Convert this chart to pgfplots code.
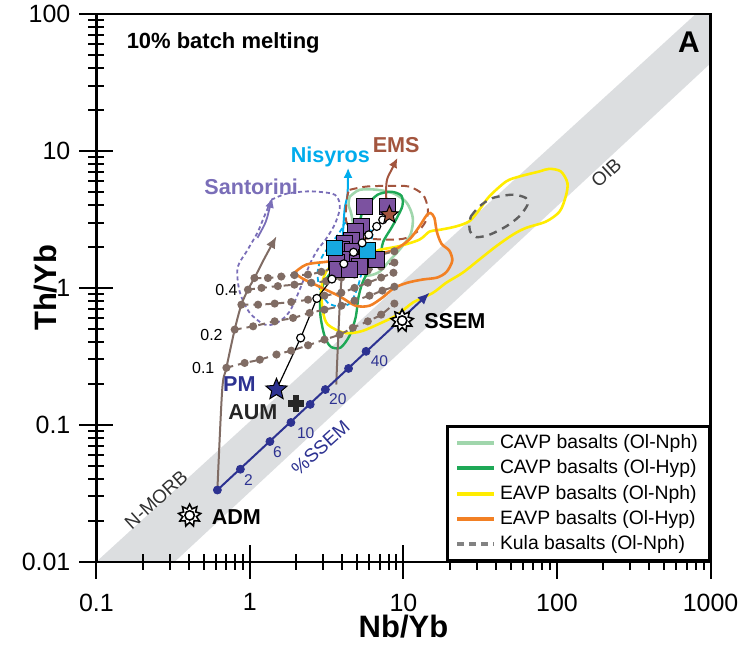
\documentclass[border=0pt]{standalone}
\usepackage{pgfplots}
\pgfplotsset{compat=1.18}
\usetikzlibrary{arrows.meta}
\usepackage{fontspec}
\setmainfont{Liberation Sans}

\definecolor{bandgray}{RGB}{220,222,224}
\definecolor{mixbrown}{RGB}{128,108,100}
\definecolor{emsbrown}{RGB}{163,85,62}
\definecolor{santo}{RGB}{122,110,184}
\definecolor{nisy}{RGB}{0,172,236}
\definecolor{sqpurple}{RGB}{124,82,160}
\definecolor{sqcyan}{RGB}{22,168,224}
\definecolor{sseblue}{RGB}{45,50,145}
\definecolor{lgreen}{RGB}{160,214,172}
\definecolor{dgreen}{RGB}{30,168,86}
\definecolor{eyellow}{RGB}{255,236,0}
\definecolor{eorange}{RGB}{242,128,36}
\definecolor{kulagray}{RGB}{95,95,95}
\definecolor{legkula}{RGB}{130,130,130}
\definecolor{txtgray}{RGB}{50,50,50}

% filled five-pointed star
\pgfdeclareplotmark{fivestar}{%
  \pgfpathmoveto{\pgfpointpolar{90}{\pgfplotmarksize}}%
  \pgfpathlineto{\pgfpointpolar{126}{0.45*\pgfplotmarksize}}%
  \pgfpathlineto{\pgfpointpolar{162}{\pgfplotmarksize}}%
  \pgfpathlineto{\pgfpointpolar{198}{0.45*\pgfplotmarksize}}%
  \pgfpathlineto{\pgfpointpolar{234}{\pgfplotmarksize}}%
  \pgfpathlineto{\pgfpointpolar{270}{0.45*\pgfplotmarksize}}%
  \pgfpathlineto{\pgfpointpolar{306}{\pgfplotmarksize}}%
  \pgfpathlineto{\pgfpointpolar{342}{0.45*\pgfplotmarksize}}%
  \pgfpathlineto{\pgfpointpolar{18}{\pgfplotmarksize}}%
  \pgfpathlineto{\pgfpointpolar{54}{0.45*\pgfplotmarksize}}%
  \pgfpathclose\pgfusepathqfillstroke}
% open nine-pointed sun star
\pgfdeclareplotmark{sun}{%
  \pgfpathmoveto{\pgfpointpolar{90}{\pgfplotmarksize}}%
  \pgfpathlineto{\pgfpointpolar{110}{0.62*\pgfplotmarksize}}%
  \pgfpathlineto{\pgfpointpolar{130}{\pgfplotmarksize}}%
  \pgfpathlineto{\pgfpointpolar{150}{0.62*\pgfplotmarksize}}%
  \pgfpathlineto{\pgfpointpolar{170}{\pgfplotmarksize}}%
  \pgfpathlineto{\pgfpointpolar{190}{0.62*\pgfplotmarksize}}%
  \pgfpathlineto{\pgfpointpolar{210}{\pgfplotmarksize}}%
  \pgfpathlineto{\pgfpointpolar{230}{0.62*\pgfplotmarksize}}%
  \pgfpathlineto{\pgfpointpolar{250}{\pgfplotmarksize}}%
  \pgfpathlineto{\pgfpointpolar{270}{0.62*\pgfplotmarksize}}%
  \pgfpathlineto{\pgfpointpolar{290}{\pgfplotmarksize}}%
  \pgfpathlineto{\pgfpointpolar{310}{0.62*\pgfplotmarksize}}%
  \pgfpathlineto{\pgfpointpolar{330}{\pgfplotmarksize}}%
  \pgfpathlineto{\pgfpointpolar{350}{0.62*\pgfplotmarksize}}%
  \pgfpathlineto{\pgfpointpolar{10}{\pgfplotmarksize}}%
  \pgfpathlineto{\pgfpointpolar{30}{0.62*\pgfplotmarksize}}%
  \pgfpathlineto{\pgfpointpolar{50}{\pgfplotmarksize}}%
  \pgfpathlineto{\pgfpointpolar{70}{0.62*\pgfplotmarksize}}%
  \pgfpathclose\pgfusepathqfillstroke
  \pgfpathcircle{\pgfpointorigin}{0.42*\pgfplotmarksize}\pgfusepathqstroke}
% filled cross
\pgfdeclareplotmark{fcross}{%
  \pgfpathmoveto{\pgfpoint{-0.35*\pgfplotmarksize}{\pgfplotmarksize}}%
  \pgfpathlineto{\pgfpoint{0.35*\pgfplotmarksize}{\pgfplotmarksize}}%
  \pgfpathlineto{\pgfpoint{0.35*\pgfplotmarksize}{0.35*\pgfplotmarksize}}%
  \pgfpathlineto{\pgfpoint{\pgfplotmarksize}{0.35*\pgfplotmarksize}}%
  \pgfpathlineto{\pgfpoint{\pgfplotmarksize}{-0.35*\pgfplotmarksize}}%
  \pgfpathlineto{\pgfpoint{0.35*\pgfplotmarksize}{-0.35*\pgfplotmarksize}}%
  \pgfpathlineto{\pgfpoint{0.35*\pgfplotmarksize}{-\pgfplotmarksize}}%
  \pgfpathlineto{\pgfpoint{-0.35*\pgfplotmarksize}{-\pgfplotmarksize}}%
  \pgfpathlineto{\pgfpoint{-0.35*\pgfplotmarksize}{-0.35*\pgfplotmarksize}}%
  \pgfpathlineto{\pgfpoint{-\pgfplotmarksize}{-0.35*\pgfplotmarksize}}%
  \pgfpathlineto{\pgfpoint{-\pgfplotmarksize}{0.35*\pgfplotmarksize}}%
  \pgfpathlineto{\pgfpoint{-0.35*\pgfplotmarksize}{0.35*\pgfplotmarksize}}%
  \pgfpathclose\pgfusepathqfillstroke}

\begin{document}
\begin{tikzpicture}
\begin{axis}[
  xmode=log, ymode=log,
  xmin=0.1, xmax=1000, ymin=0.01, ymax=100,
  scale only axis, width=307.5pt, height=274.25pt,
  log ticks with fixed point,
  /pgf/number format/1000 sep={},
  /pgf/number format/assume math mode=true,
  xtick pos=bottom, ytick pos=left,
  tick align=center,
  major tick length=17pt, minor tick length=8pt,
  major tick style={line width=1pt, black},
  minor tick style={line width=1pt, black},
  axis on top,
  axis line style={line width=1.2pt},
  tick label style={font=\fontsize{12.5}{14}\selectfont},
  xticklabel style={yshift=-4pt},
  yticklabel style={xshift=-1pt},
  xlabel={Nb/Yb}, ylabel={Th/Yb},
  every axis x label/.style={at={(axis description cs:0.5,-0.118)}, anchor=center, font=\bfseries\fontsize{15.5}{17}\selectfont},
  every axis y label/.style={at={(axis description cs:-0.082,0.5)}, anchor=center, rotate=90, font=\bfseries\fontsize{15.5}{17}\selectfont},
  legend entries={CAVP basalts (Ol-Nph),CAVP basalts (Ol-Hyp),EAVP basalts (Ol-Nph),EAVP basalts (Ol-Hyp),Kula basalts (Ol-Nph)},
  legend image code/.code={\draw (0pt,0pt) -- (18.5pt,0pt);},
  legend style={at={(1,0)}, anchor=south east, draw=black, line width=1.2pt, fill=white,
    font=\fontsize{9.7}{11}\selectfont, cells={anchor=west},
    inner xsep=4pt, inner ysep=2pt, row sep=0.6pt, nodes={inner sep=1.8pt}},
]
\addlegendimage{lgreen, line width=2pt}
\addlegendimage{dgreen, line width=2pt}
\addlegendimage{eyellow, line width=2pt}
\addlegendimage{eorange, line width=2pt}
\addlegendimage{legkula, line width=2pt, dash pattern=on 3.5pt off 2.5pt}

% mantle array band
\addplot[fill=bandgray, draw=none, forget plot] coordinates {(0.1,0.01) (0.324,0.01) (1000,43.6) (1000,100) (801,100)} -- cycle;

\node[rotate=42, text=txtgray, font=\fontsize{9.5}{11}\selectfont] at (axis cs:0.245,0.0285) {N-MORB};
\node[rotate=42, text=txtgray, font=\fontsize{9.5}{11}\selectfont] at (axis cs:209,6.92) {OIB};
\node[rotate=42, text=sseblue, font=\fontsize{9.5}{11}\selectfont] at (axis cs:2.88,0.0682) {\%SSEM};

% Santorini field
\addplot[santo, line width=0.9pt, dash pattern=on 2pt off 1.5pt, smooth, forget plot] coordinates {
(1.38,4.40) (1.73,4.87) (2.45,5.07) (3.45,4.87) (3.78,4.40) (3.84,3.72) (3.56,2.89) (3.11,2.25) (2.76,1.90) (2.45,1.48) (2.11,0.970) (1.81,0.670) (1.51,0.557) (1.25,0.539) (0.996,0.659) (0.858,0.937) (0.832,1.40) (0.967,1.90) (1.12,2.53) (1.23,3.25) (1.38,4.40)};
\addplot[santo, line width=0.9pt, smooth, -{Latex[length=5pt,width=4.5pt]}, forget plot] coordinates {(1.12,2.32) (1.27,3.05) (1.36,4.05) (1.40,4.55)};

% Nisyros field
\addplot[nisy, line width=0.9pt, dash pattern=on 2.5pt off 1.5pt, smooth, forget plot] coordinates {
(4.13,2.99) (4.94,2.79) (6.19,2.61) (6.19,2.25) (5.74,1.66) (5.41,1.36) (5.02,1.00) (4.52,0.780) (3.89,0.730) (3.21,0.780) (2.84,1.00) (2.76,1.31) (2.93,1.66) (3.30,2.03) (3.72,2.42) (4.01,2.76) (4.13,2.99)};
\addplot[nisy, line width=1pt, smooth, -{Latex[length=5pt,width=4.5pt]}, forget plot] coordinates {(3.95,1.66) (4.13,3.66) (4.32,4.79) (4.36,7.53)};

% EMS field
\addplot[emsbrown, line width=1pt, dash pattern=on 4pt off 2.5pt, smooth, forget plot] coordinates {
(4.46,5.20) (5.71,5.49) (8.11,5.56) (10.9,5.49) (13.4,4.79) (14.4,3.83) (14.1,3.14) (12.7,2.65) (10.4,2.31) (8.11,2.25) (5.43,2.31) (4.68,2.51) (4.24,3.07) (4.24,3.93) (4.35,4.92) (4.46,5.20)};

% CAVP Ol-Nph
\addplot[lgreen, line width=1.3pt, smooth, forget plot] coordinates {
(4.46,4.62) (5.18,5.20) (6.78,5.20) (8.73,4.87) (10.5,4.18) (11.5,3.25) (11.1,2.44) (9.42,1.90) (8.11,1.58) (6.98,1.31) (5.83,1.23) (5.18,1.36) (4.94,1.75) (4.80,2.44) (4.59,3.42) (4.39,4.05) (4.46,4.62)};
% CAVP Ol-Hyp
\addplot[dgreen, line width=1.2pt, smooth, forget plot] coordinates {
(5.83,4.05) (6.78,4.79) (8.36,5.03) (9.70,4.71) (9.85,3.98) (9.15,3.31) (8.36,2.75) (7.38,2.17) (6.98,1.66) (6.01,1.36) (5.41,1.09) (5.09,0.849) (4.88,0.607) (4.46,0.448) (3.89,0.366) (3.35,0.373) (3.06,0.448) (2.88,0.627) (2.88,0.877) (3.06,1.11) (3.56,1.40) (4.32,1.90) (5.02,2.57) (5.33,3.42) (5.83,4.05)};
% EAVP Ol-Nph
\addplot[eyellow, line width=1.3pt, smooth, forget plot] coordinates {
(6.98,1.90) (5.18,1.66) (3.56,1.47) (3.14,1.32) (2.92,1.00) (2.99,0.674) (3.22,0.539) (4.13,0.469) (5.31,0.482) (7.16,0.555) (9.18,0.638) (11.5,0.780) (15.5,0.918) (19.0,1.09) (24.3,1.29) (31.2,1.61) (40.1,2.01) (51.4,2.44) (62.8,2.74) (84.8,3.05) (104,3.61) (114,4.65) (117,5.82) (106,7.08) (89.1,7.40) (76.7,7.08) (56.8,6.50) (46.6,5.98) (36.2,4.65) (31.2,3.72) (26.9,3.07) (22.0,2.81) (17.1,2.65) (14.8,2.58) (12.7,2.25) (9.42,2.02) (6.98,1.90)};
% EAVP Ol-Hyp
\addplot[eorange, line width=1.3pt, smooth, forget plot] coordinates {
(1.95,1.29) (2.33,1.48) (3.14,1.55) (4.59,1.63) (6.47,1.75) (8.73,1.90) (10.9,2.25) (12.7,2.81) (14.1,3.37) (15.0,3.52) (15.9,3.25) (16.5,2.57) (17.7,2.10) (19.9,1.87) (20.8,1.58) (19.1,1.31) (16.6,1.19) (13.3,1.15) (10.6,1.09) (8.73,1.00) (7.29,0.849) (6.01,0.741) (4.88,0.741) (3.84,0.867) (2.84,1.02) (2.20,1.17) (1.95,1.29)};
% Kula
\addplot[kulagray, line width=1.2pt, dash pattern=on 4pt off 3pt, smooth, forget plot] coordinates {
(27.5,3.33) (31.2,3.93) (38.1,4.53) (51.4,4.79) (62.8,4.53) (64.3,4.05) (56.8,3.33) (46.6,2.81) (36.2,2.44) (29.7,2.35) (27.2,2.58) (26.9,2.99) (27.5,3.33)};

% mixing curves
\addplot[mixbrown, line width=1pt, smooth, -{Latex[length=6pt,width=5pt]}, forget plot] coordinates {
(0.614,0.0334) (0.66,0.18) (0.703,0.261) (0.796,0.496) (0.880,0.754) (0.971,0.970) (1.07,1.18) (1.25,1.66) (1.49,2.38)};
\addplot[mixbrown, line width=1pt, smooth, -{Latex[length=6pt,width=5pt]}, forget plot] coordinates {
(3.65,0.197) (3.78,0.496) (3.94,1.11) (4.30,2.30)};
\pgfplotsset{mixline/.style={mixbrown, line width=1pt, dash pattern=on 3.5pt off 2.5pt, smooth, mark=*, mark size=1.5pt, mark options={solid, fill=mixbrown, draw=mixbrown}, forget plot}}
\addplot[mixline] coordinates {(0.703,0.261) (0.924,0.283) (1.16,0.299) (1.49,0.326) (1.86,0.348) (2.39,0.381) (3.06,0.419) (3.84,0.456) (4.68,0.511) (5.86,0.570) (7.16,0.638) (8.73,0.768)};
\addplot[mixline] coordinates {(0.796,0.496) (1.05,0.524) (1.45,0.570) (1.91,0.603) (2.45,0.656) (3.06,0.693) (3.94,0.741) (4.80,0.807) (6.01,0.877) (7.29,0.955) (8.73,1.02)};
\addplot[mixline] coordinates {(0.880,0.754) (1.13,0.754) (1.45,0.768) (1.86,0.789) (2.39,0.820) (3.06,0.877) (3.94,0.922) (4.80,1.00) (5.86,1.09) (7.16,1.19) (8.61,1.29)};
\addplot[mixline] coordinates {(0.971,0.970) (1.19,1.00) (1.52,1.03) (1.95,1.055) (2.51,1.09) (3.14,1.12) (3.94,1.19) (4.80,1.25) (5.86,1.34) (7.16,1.43) (8.73,1.53)};
\addplot[mixline] coordinates {(1.07,1.18) (1.31,1.18) (1.60,1.21) (1.95,1.24) (2.39,1.25) (2.92,1.31) (3.56,1.40) (4.35,1.48) (5.31,1.58) (6.47,1.70) (8.73,1.85)};
\node[anchor=east, font=\fontsize{8}{9}\selectfont] at (axis cs:0.924,0.970) {0.4};
\node[anchor=east, font=\fontsize{8}{9}\selectfont] at (axis cs:0.738,0.456) {0.2};
\node[anchor=east, font=\fontsize{8}{9}\selectfont] at (axis cs:0.652,0.261) {0.1};

% SSEM line
\addplot[sseblue, line width=1pt, -{Latex[length=6pt,width=5pt]}, forget plot] coordinates {(0.614,0.0334) (14.8,0.922)};
\addplot[only marks, mark=*, mark size=2pt, mark options={fill=sseblue, draw=sseblue}, forget plot] coordinates {
(0.614,0.0334) (0.867,0.0474) (1.35,0.0755) (1.85,0.104) (2.47,0.141) (3.10,0.181) (4.39,0.258) (5.71,0.344)};
\node[text=sseblue, font=\fontsize{7.8}{9}\selectfont] at (axis cs:0.98,0.0393) {2};
\node[text=sseblue, font=\fontsize{7.8}{9}\selectfont] at (axis cs:1.51,0.0628) {6};
\node[text=sseblue, font=\fontsize{7.8}{9}\selectfont] at (axis cs:2.31,0.0875) {10};
\node[text=sseblue, font=\fontsize{7.8}{9}\selectfont] at (axis cs:3.74,0.153) {20};
\node[text=sseblue, font=\fontsize{7.8}{9}\selectfont] at (axis cs:6.98,0.291) {40};

% samples
\addplot[only marks, mark=square*, mark size=3.9pt, mark options={fill=sqpurple, draw=black, line width=0.5pt}, forget plot] coordinates {
(5.57,3.91) (7.87,3.91) (5.33,2.84) (4.88,2.57) (4.59,2.21) (4.13,2.10) (3.95,1.90) (4.66,1.84) (5.74,1.66) (6.67,1.61) (4.26,1.61) (3.66,1.55) (5.02,1.55) (5.18,1.43) (3.72,1.36) (4.46,1.36)};
\addplot[only marks, mark=square*, mark size=3.9pt, mark options={fill=sqcyan, draw=black, line width=0.5pt}, forget plot] coordinates {(3.56,1.96) (5.83,1.87)};

% PM - EMS mixing line
\addplot[black, line width=0.6pt, mark=*, mark size=2pt, mark options={fill=white, draw=black}, forget plot] coordinates {
(2.14,0.431) (2.73,0.838) (3.42,1.16) (4.09,1.50) (4.73,1.82) (5.38,2.13) (5.94,2.44) (6.70,2.81) (7.33,3.14)};
\addplot[black, line width=0.6pt, forget plot] coordinates {(1.49,0.181) (2.14,0.431)};
\addplot[black, line width=0.6pt, forget plot] coordinates {(7.33,3.14) (8.1,3.42)};

% EMS arrow
\addplot[emsbrown, line width=1pt, smooth, -{Latex[length=5pt,width=4.5pt]}, forget plot] coordinates {(7.90,3.52) (7.71,4.79) (7.81,6.15) (8.36,7.28) (9.15,8.91)};

% end members
\addplot[only marks, mark=fivestar, mark size=5.6pt, mark options={fill=sseblue, draw=black, line width=0.5pt}, forget plot] coordinates {(1.49,0.181)};
\addplot[only marks, mark=fivestar, mark size=4.6pt, mark options={fill=emsbrown, draw=black, line width=0.5pt}, forget plot] coordinates {(8.1,3.42)};
\addplot[only marks, mark=fcross, mark size=3.8pt, mark options={fill=black!85, draw=black!85, line width=0.5pt}, forget plot] coordinates {(2.00,0.143)};
\addplot[only marks, mark=sun, mark size=5.6pt, mark options={fill=white, draw=black, line width=0.8pt}, forget plot] coordinates {(0.405,0.0218) (9.81,0.577)};

% labels
\node[anchor=west, font=\bfseries\fontsize{10.8}{12}\selectfont] at (axis cs:0.508,0.0213) {ADM};
\node[anchor=west, font=\bfseries\fontsize{10.8}{12}\selectfont] at (axis cs:12.3,0.571) {SSEM};
\node[anchor=east, text=sseblue, font=\bfseries\fontsize{10.8}{12}\selectfont] at (axis cs:1.21,0.197) {PM};
\node[anchor=east, text=black!85, font=\bfseries\fontsize{10.8}{12}\selectfont] at (axis cs:1.68,0.124) {AUM};
\node[text=santo, font=\bfseries\fontsize{10.8}{12}\selectfont] at (axis cs:1.02,5.43) {Santorini};
\node[text=nisy, font=\bfseries\fontsize{10.8}{12}\selectfont] at (axis cs:3.34,8.98) {Nisyros};
\node[text=emsbrown, font=\bfseries\fontsize{10.8}{12}\selectfont] at (axis cs:8.96,11.0) {EMS};
\node[anchor=west, font=\bfseries\fontsize{11}{13}\selectfont] at (rel axis cs:0.038,0.947) {10\% batch melting};
\node[font=\bfseries\fontsize{15}{17}\selectfont] at (rel axis cs:0.965,0.949) {A};
\end{axis}
\pgfresetboundingbox
\path[use as bounding box] (-48.25pt,-43.25pt) rectangle (323.75pt,281.25pt);
\end{tikzpicture}
\end{document}
